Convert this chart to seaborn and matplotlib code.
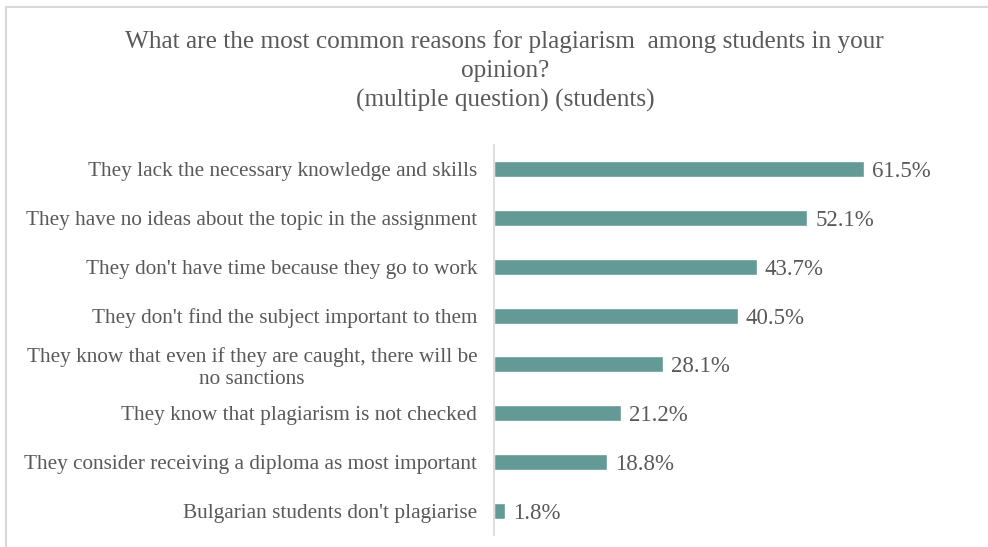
import numpy as np
import pandas as pd
import matplotlib.pyplot as plt
import seaborn as sns
from matplotlib.lines import Line2D

# data
reasons = [
    "They lack the necessary knowledge and skills",
    "They have no ideas about the topic in the assignment",
    "They don't have time because they go to work",
    "They don't find the subject important to them",
    "They know that even if they are caught, there will be\nno sanctions",
    "They know that plagiarism is not checked",
    "They consider receiving a diploma as most important",
    "Bulgarian students don't plagiarise",
]
shares = [61.5, 52.1, 43.7, 40.5, 28.1, 21.2, 18.8, 1.8]

df = pd.DataFrame({"reason": reasons, "share": shares})

sns.set_style("white")
plt.rcParams["font.family"] = ["Liberation Serif", "DejaVu Serif"]
text_col = "#595959"

fig = plt.figure(figsize=(9.88, 5.47), dpi=100)
ax = fig.add_axes([494 / 988, 1 - 535 / 547, (945 - 494) / 988, 390 / 547])

sns.barplot(data=df, x="share", y="reason", color="#639a96", width=0.33,
            saturation=1, ax=ax, orient="h")

ax.set_xlim(0, 75)
ax.set_ylim(len(reasons) - 0.5, -0.5)
ax.set_xlabel("")
ax.set_ylabel("")
ax.set_xticks([])

for s in ["top", "right", "bottom"]:
    ax.spines[s].set_visible(False)
ax.spines["left"].set_color("#d9d9d9")
ax.spines["left"].set_linewidth(1.2)

ax.tick_params(axis="y", which="major", length=0, pad=12, labelsize=15.3,
               labelcolor=text_col)
ax.set_yticks(np.arange(len(reasons) + 1) - 0.5, minor=True)
ax.tick_params(axis="y", which="minor", length=5, color="#d9d9d9", width=1.2)
for lab in ax.get_yticklabels():
    lab.set_multialignment("center")

for i, v in enumerate(shares):
    ax.text(v + 1.3, i, f"{v}%", va="center_baseline", ha="left",
            fontsize=16.5, color=text_col)

title_lines = ["What are the most common reasons for plagiarism  among students in your",
               "opinion?", "(multiple question) (students)"]
for y, t in zip([42, 71, 100], title_lines):
    fig.text(0.511, 1 - y / 547, t, ha="center", va="center",
             fontsize=18.2, color=text_col)

# light frame around the chart area (top and left edges)
fig.add_artist(Line2D([6 / 988, 1], [1 - 7 / 547, 1 - 7 / 547],
                      transform=fig.transFigure, color="#d9d9d9", lw=1.5))
fig.add_artist(Line2D([6 / 988, 6 / 988], [0, 1 - 7 / 547],
                      transform=fig.transFigure, color="#d9d9d9", lw=1.5))

fig.savefig("out.png", dpi=100)
